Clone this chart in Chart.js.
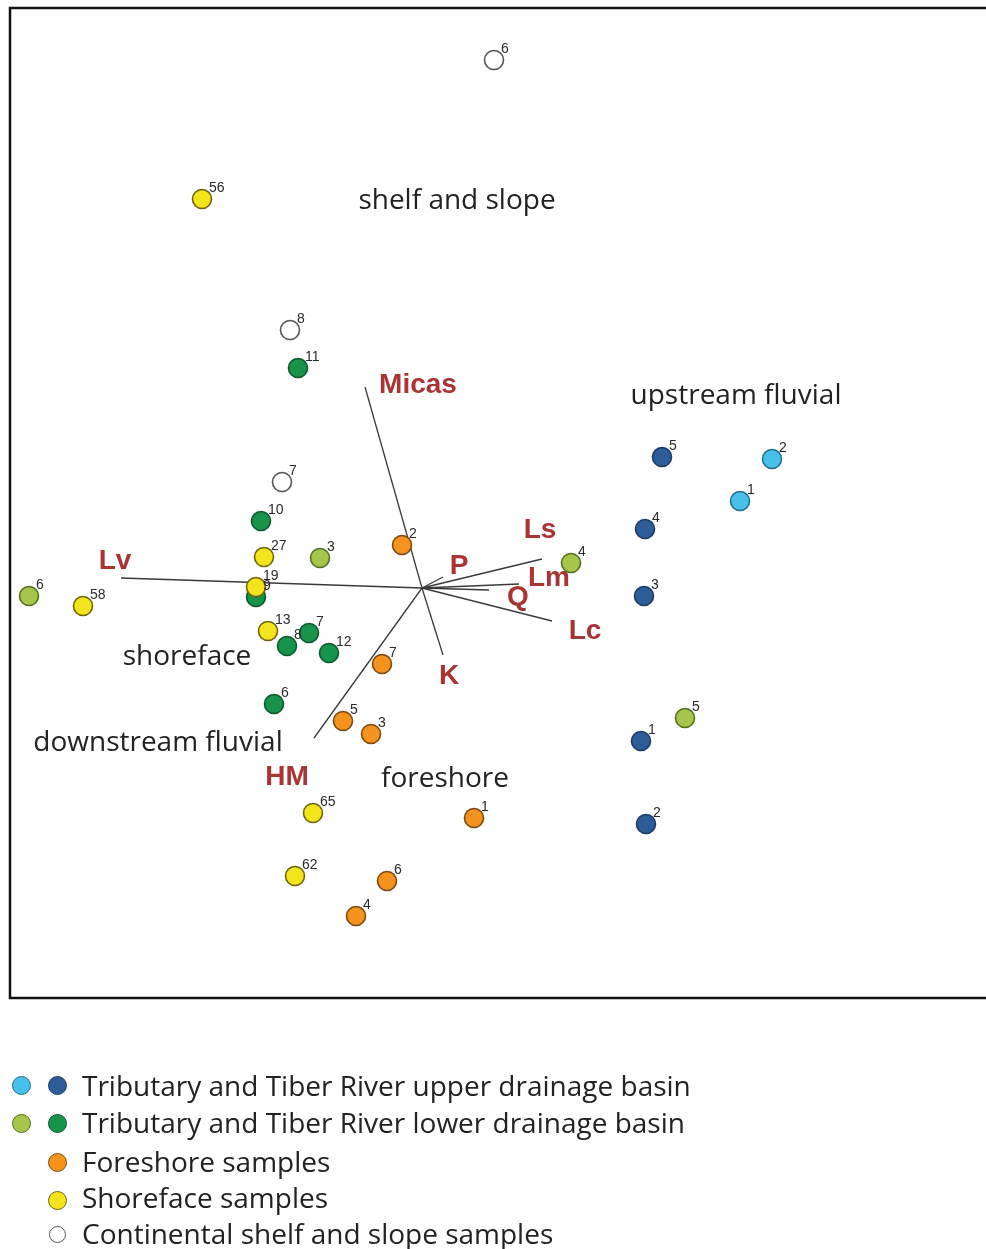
<!DOCTYPE html>
<html>
<head>
<meta charset="utf-8">
<script src="https://cdn.jsdelivr.net/npm/chart.js@4.4.1/dist/chart.umd.min.js"></script>
<style>
  html, body { margin: 0; padding: 0; background: #fff; }
  #wrap { position: relative; width: 986px; height: 1249px; overflow: hidden; }
  #chartBox { position: absolute; left: 0; top: 0; width: 986px; height: 1010px; }
  #legend { position: absolute; left: 0; top: 0; width: 986px; height: 1249px; pointer-events: none;
            font-family: "Open Sans", "Noto Sans", sans-serif; color: #222; }
  .lrow { position: absolute; left: 82px; font-size: 28px; white-space: nowrap; line-height: 1; }
  .dot { position: absolute; width: 19px; height: 19px; border-radius: 50%; box-sizing: border-box; border: 1.5px solid #333; }
</style>
</head>
<body>
<div id="wrap">
  <div id="chartBox"><canvas id="c"></canvas></div>
  <div id="legend"></div>
</div>
<script>
// ---------- DATA (biplot scores) ----------
const upperTribLabels = ['1', '2'];
const upperTribX = [3.18, 3.50];
const upperTribY = [0.87, 1.29];

const upperTiberLabels = ['5', '4', '3', '1', '2'];
const upperTiberX = [2.40, 2.23, 2.22, 2.19, 2.24];
const upperTiberY = [1.31, 0.59, -0.08, -1.53, -2.36];

const lowerTribLabels = ['6', '3', '4', '5'];
const lowerTribX = [-3.93, -1.02, 1.49, 2.63];
const lowerTribY = [-0.08, 0.30, 0.25, -1.30];

const lowerTiberLabels = ['11', '10', '9', '8', '7', '12', '6'];
const lowerTiberX = [-1.24, -1.61, -1.66, -1.35, -1.13, -0.93, -1.48];
const lowerTiberY = [2.20, 0.67, -0.09, -0.58, -0.45, -0.65, -1.16];

const foreshoreLabels = ['2', '7', '5', '3', '1', '6', '4'];
const foreshoreX = [-0.20, -0.40, -0.79, -0.51, 0.52, -0.35, -0.66];
const foreshoreY = [0.43, -0.76, -1.33, -1.46, -2.30, -2.93, -3.28];

const shorefaceLabels = ['56', '27', '19', '58', '13', '65', '62'];
const shorefaceX = [-2.20, -1.58, -1.66, -3.39, -1.54, -1.09, -1.27];
const shorefaceY = [3.89, 0.31, 0.01, -0.18, -0.43, -2.25, -2.88];

const shelfLabels = ['6', '8', '7'];
const shelfX = [0.72, -1.32, -1.40];
const shelfY = [5.28, 2.58, 1.06];

// loading vectors (from origin)
const vectorNames = ['Micas', 'Lv', 'Ls', 'P', 'Lm', 'Q', 'Lc', 'K', 'HM'];
const vectorX = [-0.57, -3.01, 1.20, 0.21, 0.97, 0.67, 1.30, 0.21, -1.08];
const vectorY = [2.01, 0.10, 0.29, 0.11, 0.04, -0.02, -0.33, -0.67, -1.50];

// region names
const regionNames = ['shelf and slope', 'upstream fluvial', 'shoreface', 'downstream fluvial', 'foreshore'];

const legendTexts = [
  'Tributary and Tiber River upper drainage basin',
  'Tributary and Tiber River lower drainage basin',
  'Foreshore samples',
  'Shoreface samples',
  'Continental shelf and slope samples'
];

// ---------- STYLE / LAYOUT ----------
const vectorLabelPos = [[-0.04, 2.03], [-3.07, 0.27], [1.18, 0.58], [0.37, 0.22], [1.27, 0.10],
                        [0.96, -0.09], [1.63, -0.43], [0.27, -0.88], [-1.35, -1.89]];
const regionPos = [[0.35, 3.87], [3.14, 1.92], [-2.35, -0.69], [-2.64, -1.55], [0.23, -1.91]];

const groups = [
  // earlier groups draw on top
  { name: 'shoreface', labels: shorefaceLabels, x: shorefaceX, y: shorefaceY, fill: '#f3e41b', stroke: '#6e6410' },
  { name: 'foreshore', labels: foreshoreLabels, x: foreshoreX, y: foreshoreY, fill: '#f6921e', stroke: '#7a4a12' },
  { name: 'shelf', labels: shelfLabels, x: shelfX, y: shelfY, fill: '#ffffff', stroke: '#555555' },
  { name: 'upperTrib', labels: upperTribLabels, x: upperTribX, y: upperTribY, fill: '#47c1ec', stroke: '#1f6f8e' },
  { name: 'upperTiber', labels: upperTiberLabels, x: upperTiberX, y: upperTiberY, fill: '#2d5d99', stroke: '#1b3b66' },
  { name: 'lowerTrib', labels: lowerTribLabels, x: lowerTribX, y: lowerTribY, fill: '#a5c64a', stroke: '#55701e' },
  { name: 'lowerTiber', labels: lowerTiberLabels, x: lowerTiberX, y: lowerTiberY, fill: '#17934a', stroke: '#0b5a2c' }
];

const datasets = [];
groups.forEach((g, gi) => {
  datasets.push({
    type: 'scatter',
    label: g.name,
    data: g.x.map((v, i) => ({ x: v, y: g.y[i] })),
    pointLabels: g.labels,
    backgroundColor: g.fill,
    borderColor: g.stroke,
    borderWidth: 1.6,
    pointRadius: 9.5,
    pointHoverRadius: 9.5,
    order: gi + 1
  });
});
vectorNames.forEach((n, i) => {
  datasets.push({
    type: 'line',
    label: n,
    data: [{ x: 0, y: 0 }, { x: vectorX[i], y: vectorY[i] }],
    borderColor: '#3a3a3a',
    borderWidth: 1.3,
    pointRadius: 0,
    showLine: true,
    fill: false,
    order: 100
  });
});

const annotPlugin = {
  id: 'annot',
  afterDatasetsDraw(chart) {
    const { ctx, chartArea, scales } = chart;
    const xs = scales.x, ys = scales.y;
    ctx.save();
    // point labels
    ctx.font = '14px "Liberation Sans", Arial, sans-serif';
    ctx.fillStyle = '#2a2a2a';
    ctx.textAlign = 'left';
    ctx.textBaseline = 'alphabetic';
    chart.data.datasets.forEach((ds, di) => {
      if (!ds.pointLabels) return;
      const meta = chart.getDatasetMeta(di);
      meta.data.forEach((el, i) => {
        ctx.fillText(ds.pointLabels[i], el.x + 7, el.y - 7);
      });
    });
    // vector labels
    ctx.font = 'bold 28px "Liberation Sans", Arial, sans-serif';
    ctx.fillStyle = '#aa3434';
    ctx.textAlign = 'center';
    ctx.textBaseline = 'middle';
    vectorNames.forEach((n, i) => {
      ctx.fillText(n, xs.getPixelForValue(vectorLabelPos[i][0]), ys.getPixelForValue(vectorLabelPos[i][1]));
    });
    // region labels
    ctx.font = '28px "Open Sans", "Noto Sans", sans-serif';
    ctx.fillStyle = '#222';
    regionNames.forEach((n, i) => {
      ctx.fillText(n, xs.getPixelForValue(regionPos[i][0]), ys.getPixelForValue(regionPos[i][1]));
    });
    // frame (top, left, bottom)
    ctx.strokeStyle = '#111';
    ctx.lineWidth = 2.5;
    ctx.beginPath();
    ctx.moveTo(chartArea.right + 5, chartArea.top);
    ctx.lineTo(chartArea.left, chartArea.top);
    ctx.lineTo(chartArea.left, chartArea.bottom);
    ctx.lineTo(chartArea.right + 5, chartArea.bottom);
    ctx.stroke();
    ctx.restore();
  }
};

new Chart(document.getElementById('c'), {
  type: 'scatter',
  data: { datasets },
  options: {
    responsive: true,
    maintainAspectRatio: false,
    animation: false,
    layout: { autoPadding: false, padding: { left: 10, top: 8, right: 0, bottom: 12 } },
    plugins: { legend: { display: false }, tooltip: { enabled: false } },
    scales: {
      x: { type: 'linear', min: -4.12, max: 5.64, display: false },
      y: { type: 'linear', min: -4.10, max: 5.80, display: false }
    }
  },
  plugins: [annotPlugin]
});

// ---------- HTML legend ----------
const legendRows = [
  { top: 1071, dotY: 1085, dots: [['#47c1ec', '#1f6f8e', 21], ['#2d5d99', '#1b3b66', 57]] },
  { top: 1108, dotY: 1123, dots: [['#a5c64a', '#55701e', 21], ['#17934a', '#0b5a2c', 57]] },
  { top: 1147, dotY: 1162, dots: [['#f6921e', '#7a4a12', 57]] },
  { top: 1183, dotY: 1200, dots: [['#f3e41b', '#6e6410', 57]] },
  { top: 1219, dotY: 1234, dots: [['#ffffff', '#555555', 57]] }
];
const leg = document.getElementById('legend');
legendRows.forEach((r, i) => {
  r.dots.forEach(d => {
    const el = document.createElement('div');
    el.className = 'dot';
    const size = d[0] === '#ffffff' ? 17 : 19;
    el.style.width = size + 'px';
    el.style.height = size + 'px';
    el.style.left = (d[2] - size / 2) + 'px';
    el.style.top = (r.dotY - size / 2) + 'px';
    el.style.background = d[0];
    el.style.borderColor = d[1];
    leg.appendChild(el);
  });
  const t = document.createElement('div');
  t.className = 'lrow';
  t.style.top = r.top + 'px';
  t.textContent = legendTexts[i];
  leg.appendChild(t);
});
</script>
</body>
</html>
